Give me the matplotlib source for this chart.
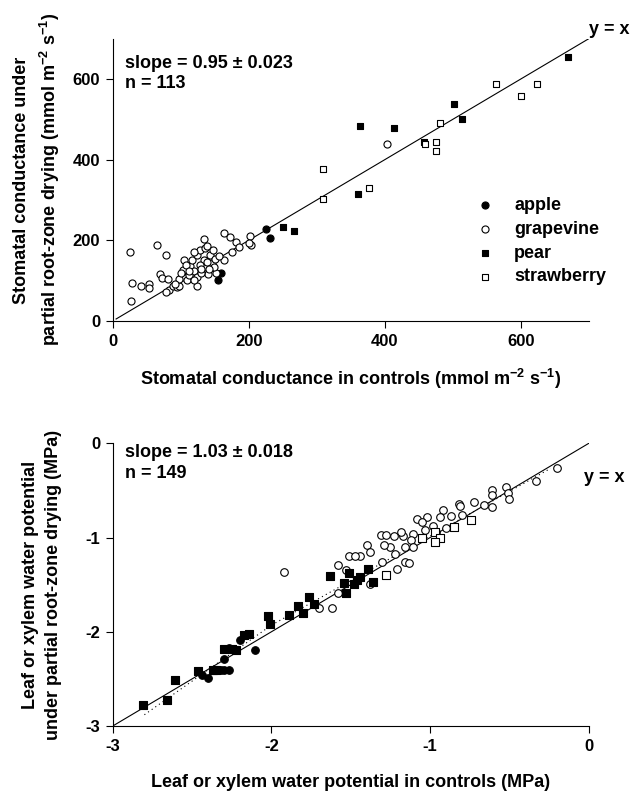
import matplotlib
matplotlib.use("Agg")
import matplotlib.pyplot as plt

plt.rcParams["font.family"] = ["Liberation Sans", "DejaVu Sans"]
plt.rcParams["font.weight"] = "bold"
plt.rcParams["axes.unicode_minus"] = False
plt.rcParams["mathtext.fontset"] = "custom"
plt.rcParams["mathtext.bf"] = "Liberation Sans:bold"
plt.rcParams["mathtext.rm"] = "Liberation Sans:bold"
plt.rcParams["mathtext.default"] = "bf"

# ---- panel A: stomatal conductance (mmol m-2 s-1), control vs PRD
apple_gs_ctrl = [155, 159, 225, 231]
apple_gs_prd = [102, 118, 228, 207]

grape_gs_ctrl = [26, 65, 79, 29, 41, 53, 53, 27, 70, 73, 82, 83, 78, 88, 94, 98,
                 105, 104, 103, 110, 114, 116, 119, 124, 124, 124, 128, 134, 135,
                 136, 137, 138, 140, 143, 146, 148, 150, 152, 163, 163, 129, 112,
                 97, 91, 119, 130, 138, 149, 172, 182, 176, 202, 204, 200, 186,
                 108, 120, 130, 142, 156, 112, 100, 403]
grape_gs_prd = [172, 188, 163, 94, 86, 91, 82, 49, 116, 106, 103, 76, 73, 86, 84, 86,
                151, 126, 109, 101, 136, 151, 124, 86, 164, 109, 176, 203, 151,
                181, 133, 185, 116, 164, 145, 176, 155, 118, 218, 151, 139, 113,
                105, 92, 101, 118, 147, 134, 208, 197, 170, 211, 188, 193, 183,
                140, 170, 128, 128, 160, 125, 120, 439]

pear_gs_ctrl = [250, 266, 361, 364, 413, 458, 502, 514, 669]
pear_gs_prd = [233, 224, 316, 483, 478, 445, 537, 502, 654]

straw_gs_ctrl = [310, 310, 377, 460, 475, 475, 482, 564, 601, 624]
straw_gs_prd = [302, 377, 331, 438, 445, 422, 490, 587, 558, 587]

# ---- panel B: leaf / xylem water potential (MPa)
apple_psi_ctrl = [-2.44, -2.40, -2.32, -2.30, -2.30, -2.20, -2.10, -2.27, -2.27]
apple_psi_prd = [-2.46, -2.49, -2.40, -2.40, -2.29, -2.09, -2.19, -2.17, -2.40]

pear_psi_ctrl = [-2.81, -2.66, -2.61, -2.46, -2.37, -2.35, -2.30, -2.25, -2.22,
                 -2.17, -2.14, -2.02, -2.01, -1.89, -1.83, -1.80, -1.76, -1.73,
                 -1.63, -1.54, -1.53, -1.51, -1.48, -1.46, -1.44, -1.39, -1.36]
pear_psi_prd = [-2.78, -2.72, -2.51, -2.42, -2.40, -2.40, -2.18, -2.18, -2.19,
                -2.03, -2.02, -1.83, -1.92, -1.82, -1.73, -1.80, -1.63, -1.71,
                -1.41, -1.48, -1.59, -1.38, -1.49, -1.45, -1.42, -1.33, -1.47]

straw_psi_ctrl = [-1.28, -1.05, -0.97, -0.94, -0.97, -0.85, -0.74]
straw_psi_prd = [-1.40, -1.00, -0.94, -1.00, -1.05, -0.89, -0.81]

grape_psi_ctrl = [-0.20, -0.33, -0.52, -0.51, -0.50, -0.61, -0.61, -0.61, -0.66,
                  -0.72, -0.82, -0.81, -0.92, -0.94, -1.02, -1.08, -1.05, -0.87,
                  -0.80, -0.98, -1.03, -0.96, -0.90, -1.11, -1.17, -1.18, -1.23,
                  -1.12, -1.11, -1.16, -1.25, -1.29, -1.31, -1.28, -1.22, -1.16,
                  -1.13, -1.21, -1.30, -1.40, -1.38, -1.44, -1.51, -1.47, -1.58,
                  -1.53, -1.38, -1.70, -1.62, -1.58, -1.92]
grape_psi_prd = [-0.26, -0.40, -0.46, -0.53, -0.59, -0.50, -0.55, -0.68, -0.65,
                 -0.62, -0.64, -0.67, -0.71, -0.78, -0.78, -0.80, -0.83, -0.77,
                 -0.76, -0.88, -0.92, -0.94, -0.90, -0.96, -0.98, -0.94, -0.98,
                 -1.03, -1.10, -1.10, -1.10, -1.08, -0.97, -0.97, -1.17, -1.26,
                 -1.27, -1.33, -1.26, -1.08, -1.15, -1.20, -1.20, -1.20, -1.29,
                 -1.34, -1.49, -1.75, -1.75, -1.59, -1.36]

# dotted fitted line in panel B
fit_x = [-2.80, -2.00, -0.24]
fit_y = [-2.88, -1.93, -0.265]


def draw(ax, data, ms):
    (ax_c, ay_c), (gx, gy), (px, py), (sx, sy) = data
    h1 = ax.scatter(ax_c, ay_c, s=ms, marker="o", facecolor="black",
                    edgecolor="black", linewidth=0.8, zorder=3, label="apple")
    h2 = ax.scatter(gx, gy, s=ms, marker="o", facecolor="white",
                    edgecolor="black", linewidth=0.8, zorder=3, label="grapevine")
    h3 = ax.scatter(px, py, s=ms * 0.9, marker="s", facecolor="black",
                    edgecolor="black", linewidth=0.8, zorder=3, label="pear")
    h4 = ax.scatter(sx, sy, s=ms * 0.9, marker="s", facecolor="white",
                    edgecolor="black", linewidth=0.8, zorder=3, label="strawberry")
    for side in ["top", "right"]:
        ax.spines[side].set_visible(False)
    ax.tick_params(direction="out", length=5, width=0.8, labelsize=12, pad=4)
    for lab in ax.get_xticklabels() + ax.get_yticklabels():
        lab.set_fontweight("bold")
    return [h1, h2, h3, h4]


fig = plt.figure(figsize=(6.41, 7.94), dpi=100)

# top panel
ax1 = fig.add_axes([0.1758, 0.5957, 0.7426, 0.3555])
ax1.plot([5, 700], [5, 700], color="black", linewidth=0.8, zorder=2)
handles = draw(ax1, [(apple_gs_ctrl, apple_gs_prd), (grape_gs_ctrl, grape_gs_prd),
                     (pear_gs_ctrl, pear_gs_prd), (straw_gs_ctrl, straw_gs_prd)], 26)
ax1.set_xlim(0, 700)
ax1.set_ylim(0, 700)
ax1.set_xticks([0, 200, 400, 600])
ax1.set_yticks([0, 200, 400, 600])
ax1.set_xlabel("Stomatal conductance in controls (mmol m$^{-2}$ s$^{-1}$)",
               fontsize=13, fontweight="bold", labelpad=13)
ax1.set_ylabel("Stomatal conductance under\npartial root-zone drying (mmol m$^{-2}$ s$^{-1}$)",
               fontsize=13, fontweight="bold", linespacing=1.45)
ax1.yaxis.set_label_coords(-0.106, 0.5)
ax1.text(0.026, 0.914, "slope = 0.95 \u00b1 0.023", transform=ax1.transAxes,
         fontsize=13, fontweight="bold", va="center")
ax1.text(0.026, 0.84, "n = 113", transform=ax1.transAxes,
         fontsize=13, fontweight="bold", va="center")
ax1.text(700, 722, "y = x", fontsize=13, fontweight="bold", va="center",
         ha="left", clip_on=False)
ax1.legend(handles=handles, loc="upper left", bbox_to_anchor=(0.764, 0.44),
           frameon=False, handlelength=1.0, handletextpad=1.1,
           labelspacing=0.38, borderpad=0, borderaxespad=0,
           prop={"weight": "bold", "size": 13})

# bottom panel
ax2 = fig.add_axes([0.1758, 0.0856, 0.7426, 0.356])
ax2.plot([-3, 0], [-3, 0], color="black", linewidth=0.8, zorder=2)
ax2.plot(fit_x, fit_y, color="black", linewidth=0.8, linestyle=(0, (1, 3)), zorder=2)
draw(ax2, [(apple_psi_ctrl, apple_psi_prd), (grape_psi_ctrl, grape_psi_prd),
           (pear_psi_ctrl, pear_psi_prd), (straw_psi_ctrl, straw_psi_prd)], 30)
ax2.set_xlim(-3, 0)
ax2.set_ylim(-3, 0)
ax2.set_xticks([-3, -2, -1, 0])
ax2.set_yticks([-3, -2, -1, 0])
ax2.set_xlabel("Leaf or xylem water potential in controls (MPa)",
               fontsize=13, fontweight="bold", labelpad=15)
ax2.set_ylabel("Leaf or xylem water potential\nunder partial root-zone drying (MPa)",
               fontsize=13, fontweight="bold", linespacing=1.45)
ax2.yaxis.set_label_coords(-0.106, 0.5)
ax2.text(0.026, 0.966, "slope = 1.03 \u00b1 0.018", transform=ax2.transAxes,
         fontsize=13, fontweight="bold", va="center")
ax2.text(0.026, 0.895, "n = 149", transform=ax2.transAxes,
         fontsize=13, fontweight="bold", va="center")
ax2.text(-0.03, -0.36, "y = x", fontsize=13, fontweight="bold", va="center",
         ha="left", clip_on=False)

fig.savefig("out.png", dpi=100)
